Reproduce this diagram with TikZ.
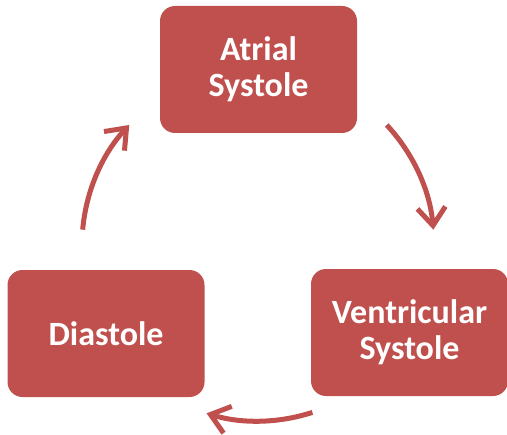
\documentclass[tikz,border=0pt]{standalone}
\usepackage{fontspec}
\setmainfont{Carlito}
\usetikzlibrary{arrows.meta}
\definecolor{cycleRed}{HTML}{C0504D}

\begin{document}
\begin{tikzpicture}[x=0.5pt, y=0.5pt,
	phaseBox/.style={fill=cycleRed, rounded corners=7.5pt, minimum width=98.5pt, minimum height=63.5pt,
		inner sep=0pt, text=white, align=center, font=\fontsize{17}{18}\selectfont\bfseries},
	cycleArrow/.style={draw=cycleRed, line width=2.5pt, -{Straight Barb[length=9pt, width=14pt]}}]
\useasboundingbox (0,0) rectangle (507,434);
	\node[phaseBox] (atrial) at (258.5,364.5) {Atrial\\Systole};
	\node[phaseBox] (diastole) at (106,100.5) {Diastole};
	\node[phaseBox] (ventricular) at (409.5,101.5) {Ventricular\\Systole};
	\coordinate (centre) at (258,189);
	\coordinate (atrialOut) at ([shift={(43:88pt)}]centre);
	\coordinate (ventricularOut) at ([shift={(-72:88pt)}]centre);
	\coordinate (diastoleOut) at ([shift={(175:88pt)}]centre);
	\draw[cycleArrow] (atrialOut) arc[start angle=43, end angle=5, radius=88pt];
	\draw[cycleArrow] (ventricularOut) arc[start angle=-72, end angle=-107, radius=88pt];
	\draw[cycleArrow] (diastoleOut) arc[start angle=175, end angle=137, radius=88pt];
\end{tikzpicture}
\end{document}
